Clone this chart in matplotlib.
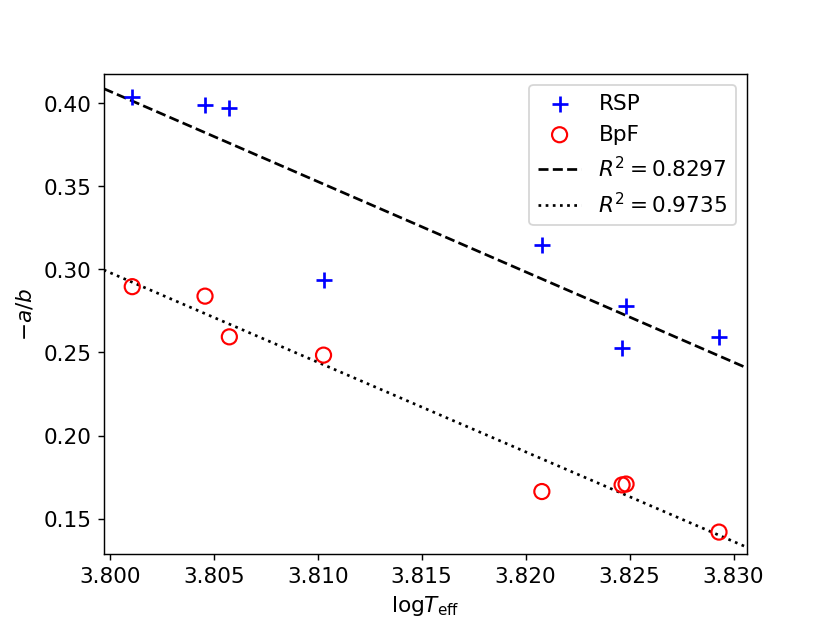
import numpy as np
import matplotlib
matplotlib.use("Agg")
import matplotlib.pyplot as plt

plt.rcParams["font.size"] = 12

# Data
log_teff = [3.80108, 3.80458, 3.80575, 3.81028, 3.82078, 3.82483, 3.82464, 3.82930]
rsp = [0.4040, 0.3990, 0.3974, 0.2937, 0.3147, 0.2779, 0.2528, 0.2592]
bpf = [0.2896, 0.2839, 0.2594, 0.2484, 0.1663, 0.1708, 0.1703, 0.1419]
r2_labels = [r"$R^2 = 0.8297$", r"$R^2 = 0.9735$"]

xlim = (3.79971, 3.83065)
ylim = (0.129, 0.4175)

fig, ax = plt.subplots(figsize=(6.4, 4.8), dpi=129.7)
ax.scatter(log_teff, rsp, marker="+", color="blue", s=80, label="RSP", zorder=3)
ax.scatter(log_teff, bpf, marker="o", facecolors="none", edgecolors="red",
           s=70, linewidths=1.2, label="BpF", zorder=3)

xx = np.linspace(xlim[0], xlim[1], 100)
p1 = np.polyfit(log_teff, rsp, 1)
p2 = np.polyfit(log_teff, bpf, 1)
ax.plot(xx, np.polyval(p1, xx), "k--", label=r2_labels[0])
ax.plot(xx, np.polyval(p2, xx), "k:", label=r2_labels[1])

ax.set_xlim(*xlim)
ax.set_ylim(*ylim)
ax.set_xlabel(r"log$T_{\rm eff}$")
ax.set_ylabel(r"$-a/b$")
ax.legend(loc="upper right")
fig.savefig("out.png", dpi=129.7)
